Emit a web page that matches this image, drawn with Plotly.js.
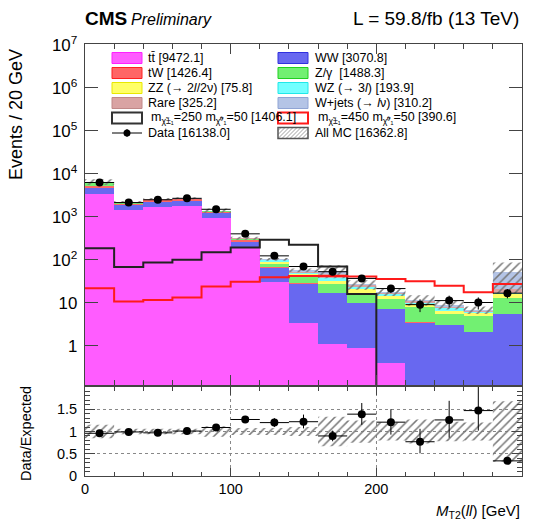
<!DOCTYPE html>
<html><head><meta charset="utf-8">
<script src="https://cdn.plot.ly/plotly-3.0.1.min.js"></script>
<style>html,body{margin:0;padding:0;background:#fff}#plot{width:534px;height:520px}</style>
</head><body><div id="plot"></div>
<script>
// ---------- data ----------
const binEdges   = [0,20,40,60,80,100,120,140,160,180,200,220,240,260,280,300];
const binCenters = [10,30,50,70,90,110,130,150,170,190,210,230,250,270,290];
const binHalf    = [10,10,10,10,10,10,10,10,10,10,10,10,10,10,10];

const ttbar = [3350,1430,1690,1780,920,190,30,3.4,1.1,0.9,0.4,0.05,0.02,0,0];
const ww    = [1350,420,560,590,300,65,34,24.5,15.5,9,6.7,3.4,3.0,2.1,5.5];
const tw    = [550,160,180,180,110,28,3,1.0,0.5,0.3,0.1,0.15,0.05,0.05,0.1];
const zg    = [800,110,80,70,35,20,14,11,10.5,6.5,5,4.6,2.45,2.85,7.3];
const zz    = [30,5,5,5,3,2,8,6,5.5,4.3,2.3,1.3,1.1,0.76,3];
const wz    = [70,15,15,15,8,5,8,3.5,4,3,1.7,0.5,0.8,0.44,1.5];
const rare  = [130,30,25,30,14,5,4,4,9,1.5,1,1,0.8,0.4,4];
const wjets = [220,30,25,30,10,3,2,3.6,9.9,1.5,0.8,0.8,0.78,0.3,30.6];

const sig250 = [187,68,87,100,151,194,292,224,70,16,0,0,0,0,0];
const sig450 = [22,10.7,11.7,13.3,24,31,39.5,42,42,41,36,32,25,17.7,27.6];

const data    = [6300,2150,2500,2700,1500,403,124,70,53,37,21.5,9.1,11.3,10.2,16.8];
const dataErr = [79,46,50,52,39,20,11,8.4,7.3,6.1,4.6,3.0,3.4,3.2,4.1];

const ratio      = [0.96,0.99,0.97,1.01,1.09,1.27,1.20,1.22,0.90,1.39,1.21,0.77,1.26,1.47,0.34];
const ratioErrUp = [0.02,0.02,0.02,0.02,0.03,0.05,0.10,0.16,0.12,0.25,0.29,0.29,0.43,0.55,0.06];
const ratioErrDn = [0.02,0.02,0.02,0.02,0.03,0.05,0.10,0.15,0.12,0.24,0.28,0.26,0.40,0.45,0.06];
const mcRelUnc   = [0.15,0.06,0.06,0.06,0.12,0.08,0.08,0.10,0.33,0.25,0.20,0.27,0.22,0.20,0.68];

const procNames  = ['tt\u0304','WW','tW','Z/\u03b3 ','ZZ (\u2192 2<i>l</i>/2\u03bd)','WZ (\u2192 3<i>l</i>)','Rare','W+jets (\u2192 <i>l</i>\u03bd)'];
const procTotals = [9472.1,3070.8,1426.4,1488.3,75.8,193.9,325.2,310.2];
const sigNames   = ['m<sub>\u03c7\u0303\u00b1\u2081</sub>=250 m<sub>\u03c7\u0303\u2070\u2081</sub>=50','m<sub>\u03c7\u0303\u00b1\u2081</sub>=450 m<sub>\u03c7\u0303\u2070\u2081</sub>=50'];
const sigTotals  = [1406.1,390.6];
const dataTotal  = 16138.0;
const mcTotalAll = 16362.8;

// ---------- styles ----------
const procSeries = [ttbar,ww,tw,zg,zz,wz,rare,wjets];
const procFill = ['#ff5cff','#6868f0','#ff6666','#72f072','#ffff66','#72ffff','#d9a3a3','#b4c4e6'];
const procLine = ['#ff20ff','#3030e0','#ff2020','#20d020','#e8e800','#20e8e8','#c08888','#90a4d4'];
const FONT = 'Liberation Sans, Arial, Helvetica, sans-serif';

const traces = [];
procSeries.forEach((s,i)=>{
  traces.push({type:'bar', x:binCenters, y:s, width:20, xaxis:'x', yaxis:'y',
    marker:{color:procFill[i], line:{width:0}},
    hoverinfo:'skip', name:procNames[i]});
});

// MC total and uncertainty band
const mcTot = binCenters.map((_,j)=>procSeries.reduce((a,s)=>a+s[j],0));
function bandPoly(lo, hi){
  const xs=[], ys=[];
  for(let j=0;j<binCenters.length;j++){ xs.push(binEdges[j],binEdges[j+1]); ys.push(hi[j],hi[j]); }
  for(let j=binCenters.length-1;j>=0;j--){ xs.push(binEdges[j+1],binEdges[j]); ys.push(lo[j],lo[j]); }
  xs.push(xs[0]); ys.push(ys[0]);
  return {xs, ys};
}
const mb = bandPoly(mcTot.map((v,j)=>v*(1-mcRelUnc[j])), mcTot.map((v,j)=>v*(1+mcRelUnc[j])));
traces.push({type:'scatter', mode:'lines', x:mb.xs, y:mb.ys, xaxis:'x', yaxis:'y',
  fill:'toself', fillcolor:'rgba(0,0,0,0)', line:{width:0, color:'rgba(0,0,0,0)'},
  fillpattern:{shape:'/', fgcolor:'#777', bgcolor:'rgba(0,0,0,0)', size:6, solidity:0.25},
  hoverinfo:'skip'});

// signal step lines
function stepY(v){ const f=v.map(a=>a>0?a:1e-3); return f.concat([f[f.length-1]]); }
traces.push({type:'scatter', mode:'lines', x:binEdges, y:stepY(sig250), xaxis:'x', yaxis:'y',
  line:{shape:'hv', color:'#222', width:2}, hoverinfo:'skip'});
traces.push({type:'scatter', mode:'lines', x:binEdges, y:stepY(sig450), xaxis:'x', yaxis:'y',
  line:{shape:'hv', color:'#ff1a1a', width:2}, hoverinfo:'skip'});

// data
traces.push({type:'scatter', mode:'markers', x:binCenters, y:data, xaxis:'x', yaxis:'y',
  marker:{color:'#000', size:8},
  error_y:{type:'data', array:dataErr, color:'#000', thickness:1, width:0},
  error_x:{type:'data', array:binHalf, color:'#000', thickness:1, width:0}, hoverinfo:'skip'});

// ratio band
const rb = bandPoly(mcRelUnc.map(u=>1-u), mcRelUnc.map(u=>1+u));
traces.push({type:'scatter', mode:'lines', x:rb.xs, y:rb.ys, xaxis:'x2', yaxis:'y2',
  fill:'toself', fillcolor:'rgba(0,0,0,0)', line:{width:0, color:'rgba(0,0,0,0)'},
  fillpattern:{shape:'/', fgcolor:'#777', bgcolor:'rgba(0,0,0,0)', size:6, solidity:0.25},
  hoverinfo:'skip'});
traces.push({type:'scatter', mode:'markers', x:binCenters, y:ratio, xaxis:'x2', yaxis:'y2',
  marker:{color:'#000', size:8},
  error_y:{type:'data', symmetric:false, array:ratioErrUp, arrayminus:ratioErrDn, color:'#000', thickness:1, width:0},
  error_x:{type:'data', array:binHalf, color:'#000', thickness:1, width:0}, hoverinfo:'skip'});

// ---------- geometry helpers (pixel -> paper) ----------
const L=85, R=522, T=44, B=476;
const px = v => (v-L)/(R-L);
const py = v => (B-v)/(B-T);

const shapes=[], annotations=[];
// legend
const rowY = [58,73,88,103,118,133];
const boxX = [112,278];
const txtX = [147,314];
function addBox(col,row,fill,line,lw){
  shapes.push({type:'rect', xref:'paper', yref:'paper', layer:'above',
    x0:px(boxX[col]), x1:px(boxX[col]+30), y0:py(rowY[row]+5.5), y1:py(rowY[row]-5.5),
    fillcolor:fill, line:{color:line, width:lw}});
}
function addText(col,row,text,dx){
  annotations.push({xref:'paper', yref:'paper', x:px(txtX[col]+(dx||0)), y:py(rowY[row]), xanchor:'left', yanchor:'middle',
    text:text, showarrow:false, font:{family:FONT, size:12.5, color:'#000'}, borderpad:0});
}
procNames.forEach((n,i)=>{
  const col=i%2, row=Math.floor(i/2);
  addBox(col,row,procFill[i],procLine[i],1);
  addText(col,row,n+' ['+procTotals[i].toFixed(1)+']');
});
addBox(0,4,'rgba(0,0,0,0)','#333',2);
addText(0,4,sigNames[0]+' ['+sigTotals[0].toFixed(1)+']',3);
addBox(1,4,'rgba(0,0,0,0)','#ff1a1a',2);
addText(1,4,sigNames[1]+' ['+sigTotals[1].toFixed(1)+']',3);
// data legend
shapes.push({type:'line', xref:'paper', yref:'paper', layer:'above', x0:px(112), x1:px(142), y0:py(133), y1:py(133), line:{color:'#000', width:1}});
shapes.push({type:'line', xref:'paper', yref:'paper', layer:'above', x0:px(127), x1:px(127), y0:py(129), y1:py(137), line:{color:'#000', width:1}});
shapes.push({type:'circle', xref:'paper', yref:'paper', layer:'above', x0:px(123.5), x1:px(130.5), y0:py(136.5), y1:py(129.5), fillcolor:'#000', line:{color:'#000', width:0}});
addText(0,5,'Data ['+dataTotal.toFixed(1)+']');
// All MC legend (hatched)
(function(){
  const X0=boxX[1], X1=boxX[1]+30, Y0=rowY[5]-5.5, Y1=rowY[5]+5.5;
  for(let s=X0+Y0+3; s<X1+Y1; s+=4){
    const a=Math.max(X0, s-Y1), b=Math.min(X1, s-Y0);
    if(b>a) shapes.push({type:'line', xref:'paper', yref:'paper', layer:'above', x0:px(a), y0:py(s-a), x1:px(b), y1:py(s-b), line:{color:'#888', width:0.8}});
  }
  shapes.push({type:'rect', xref:'paper', yref:'paper', layer:'above', x0:px(X0), x1:px(X1), y0:py(Y1), y1:py(Y0), line:{color:'#555', width:1.5}});
})();
addText(1,5,'All MC ['+mcTotalAll.toFixed(1)+']');

// header texts
annotations.push({xref:'paper', yref:'paper', x:px(83), y:py(19), xanchor:'left', yanchor:'middle', showarrow:false,
  text:'<b>CMS</b>', font:{family:FONT, size:19, color:'#000'}});
annotations.push({xref:'paper', yref:'paper', x:px(129), y:py(20), xanchor:'left', yanchor:'middle', showarrow:false,
  text:'<i>Preliminary</i>', font:{family:FONT, size:16, color:'#000'}});
annotations.push({xref:'paper', yref:'paper', x:px(521), y:py(19), xanchor:'right', yanchor:'middle', showarrow:false,
  text:'L = 59.8/fb (13 TeV)', font:{family:FONT, size:19, color:'#000'}});
// axis titles
annotations.push({xref:'paper', yref:'paper', x:px(16), y:py(115), xanchor:'center', yanchor:'middle', showarrow:false, textangle:-90,
  text:'Events / 20 GeV', font:{family:FONT, size:18, color:'#000'}});
annotations.push({xref:'paper', yref:'paper', x:px(26), y:py(433), xanchor:'center', yanchor:'middle', showarrow:false, textangle:-90,
  text:'Data/Expected', font:{family:FONT, size:14.5, color:'#000'}});
annotations.push({xref:'paper', yref:'paper', x:px(522), y:py(511), xanchor:'right', yanchor:'middle', showarrow:false,
  text:'<i>M</i><sub>T2</sub>(<i>ll</i>) [GeV]', font:{family:FONT, size:15, color:'#000'}});

// minor tick positions for the log axis (2..9 in each decade)
const logMinor = [];
for(let d=-1; d<=7; d++){ for(let k=2;k<=9;k++){ logMinor.push(k*Math.pow(10,d)); } }

const AX = '#444';
const topDomain = [(B-385)/(B-T),1];
const layout = {
  width:534, height:520,
  margin:{l:L, r:534-R, t:T, b:520-B, pad:0},
  paper_bgcolor:'#fff', plot_bgcolor:'#fff',
  barmode:'stack', bargap:0, showlegend:false,
  font:{family:FONT, color:'#000'},
  xaxis:{domain:[0,1], anchor:'y', range:[0,300], dtick:100, tick0:0, showticklabels:false,
    ticks:'inside', ticklen:10, tickcolor:AX, minor:{dtick:20, ticks:'inside', ticklen:5, tickcolor:AX},
    showline:true, linecolor:AX, linewidth:1, mirror:'allticks', showgrid:false, zeroline:false},
  yaxis:{domain:topDomain, anchor:'x', type:'log', range:[-0.91,7.02], dtick:1, exponentformat:'power',
    ticks:'inside', ticklen:13, tickcolor:AX,
    showline:true, linecolor:AX, linewidth:1, mirror:'allticks', showgrid:false, zeroline:false,
    tickfont:{family:FONT, size:13.5, color:'#000'}, ticklabelstandoff:4},
  yaxis3:{overlaying:'y', anchor:'x', side:'left', type:'log', range:[-0.91,7.02], tickmode:'array', tickvals:logMinor,
    showticklabels:false, ticks:'inside', ticklen:7, tickcolor:AX, mirror:'allticks', showline:false, showgrid:false, zeroline:false},
  xaxis2:{domain:[0,1], anchor:'y2', range:[0,300], dtick:100, tick0:0,
    ticks:'inside', ticklen:8, tickcolor:AX, minor:{dtick:20, ticks:'inside', ticklen:4, tickcolor:AX},
    showline:true, linecolor:AX, linewidth:1, mirror:'allticks', showgrid:true, gridcolor:'#888', griddash:'dot', gridwidth:1,
    zeroline:false, tickfont:{family:FONT, size:14.5, color:'#000'}},
  yaxis2:{domain:[0,(B-387)/(B-T)], anchor:'x2', range:[0,2], tickvals:[0,0.5,1,1.5], ticktext:['0','0.5','1','1.5'],
    ticks:'inside', ticklen:10, tickcolor:AX, minor:{dtick:0.1, ticks:'inside', ticklen:5, tickcolor:AX},
    showline:true, linecolor:AX, linewidth:1, mirror:'allticks', showgrid:true, gridcolor:'#888', griddash:'dot', gridwidth:1,
    zeroline:false, tickfont:{family:FONT, size:14.5, color:'#000'}, ticklabelstandoff:4},
  shapes:shapes, annotations:annotations
};
Plotly.newPlot('plot', traces, layout, {staticPlot:true, displayModeBar:false});
</script>
</body></html>
